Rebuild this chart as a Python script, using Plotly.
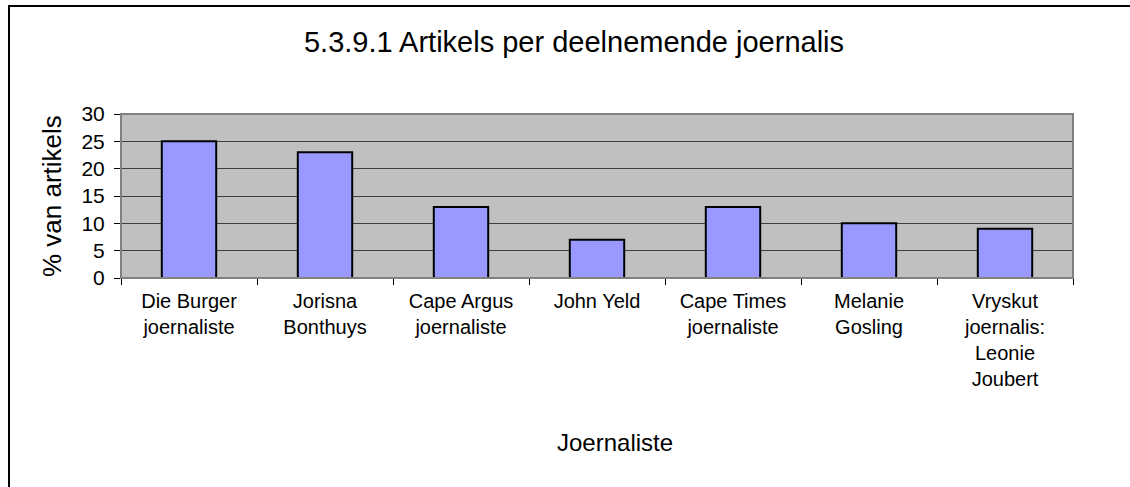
import plotly.graph_objects as go

categories = [
    "Die Burger<br>joernaliste",
    "Jorisna<br>Bonthuys",
    "Cape Argus<br>joernaliste",
    "John Yeld",
    "Cape Times<br>joernaliste",
    "Melanie<br>Gosling",
    "Vryskut<br>joernalis:<br>Leonie<br>Joubert",
]
values = [25, 23, 13, 7, 13, 10, 9]
y_ticks = [0, 5, 10, 15, 20, 25, 30]

title_text = "5.3.9.1 Artikels per deelnemende joernalis"
x_title = "Joernaliste"
y_title = "% van artikels"

W, H = 1130, 487
L, R, T, B = 121, 57, 114, 209
PW, PH = W - L - R, H - T - B

FONT = "Liberation Sans, Arial, sans-serif"

fig = go.Figure()
fig.add_trace(go.Bar(
    x=categories, y=values,
    marker=dict(color="#9999ff", line=dict(color="black", width=2)),
    hoverinfo="x+y",
))

def px_x(px):
    return (px - L) / PW

def px_y(py):
    return (H - B - py) / PH

fig.update_layout(
    width=W, height=H,
    margin=dict(l=L, r=R, t=T, b=B),
    paper_bgcolor="white",
    plot_bgcolor="#c0c0c0",
    bargap=0.6,
    showlegend=False,
    font=dict(family=FONT, color="black", size=20),
    title=dict(
        text=title_text, x=574 / W, xanchor="center",
        y=1 - 42 / H, yanchor="middle", yref="container",
        font=dict(family=FONT, size=29, color="black"),
    ),
    xaxis=dict(
        showline=True, linecolor="black", linewidth=1,
        ticks="outside", tickson="boundaries", ticklen=6, tickcolor="black",
        ticklabelstandoff=5,
        tickfont=dict(family=FONT, size=20, color="black"),
        showgrid=False, mirror=False,
    ),
    yaxis=dict(
        range=[0, 30], tickvals=y_ticks, ticktext=[str(v) for v in y_ticks],
        showline=True, linecolor="black", linewidth=1,
        ticks="outside", ticklen=6, tickcolor="black", ticklabelstandoff=5,
        tickfont=dict(family=FONT, size=21, color="black"),
        showgrid=True, gridcolor="#404040", gridwidth=1,
        zeroline=False,
    ),
    shapes=[
        dict(type="rect", xref="paper", yref="paper", x0=0, x1=1, y0=0, y1=1,
             line=dict(color="#808080", width=2), layer="above"),
        dict(type="rect", xref="paper", yref="paper",
             x0=px_x(9), x1=px_x(1140), y0=px_y(495), y1=px_y(6),
             line=dict(color="black", width=2)),
    ],
    annotations=[
        dict(text=y_title, xref="paper", yref="paper", x=px_x(52), y=px_y(196),
             xanchor="center", yanchor="middle", textangle=-90, showarrow=False,
             font=dict(family=FONT, size=26, color="black")),
        dict(text=x_title, xref="paper", yref="paper", x=px_x(615), y=px_y(443),
             xanchor="center", yanchor="middle", showarrow=False,
             font=dict(family=FONT, size=24, color="black")),
    ],
)

fig.write_html(
    "out.html",
    config={"displayModeBar": False},
    post_script="document.body.style.margin='0';document.body.style.overflow='hidden';",
)
